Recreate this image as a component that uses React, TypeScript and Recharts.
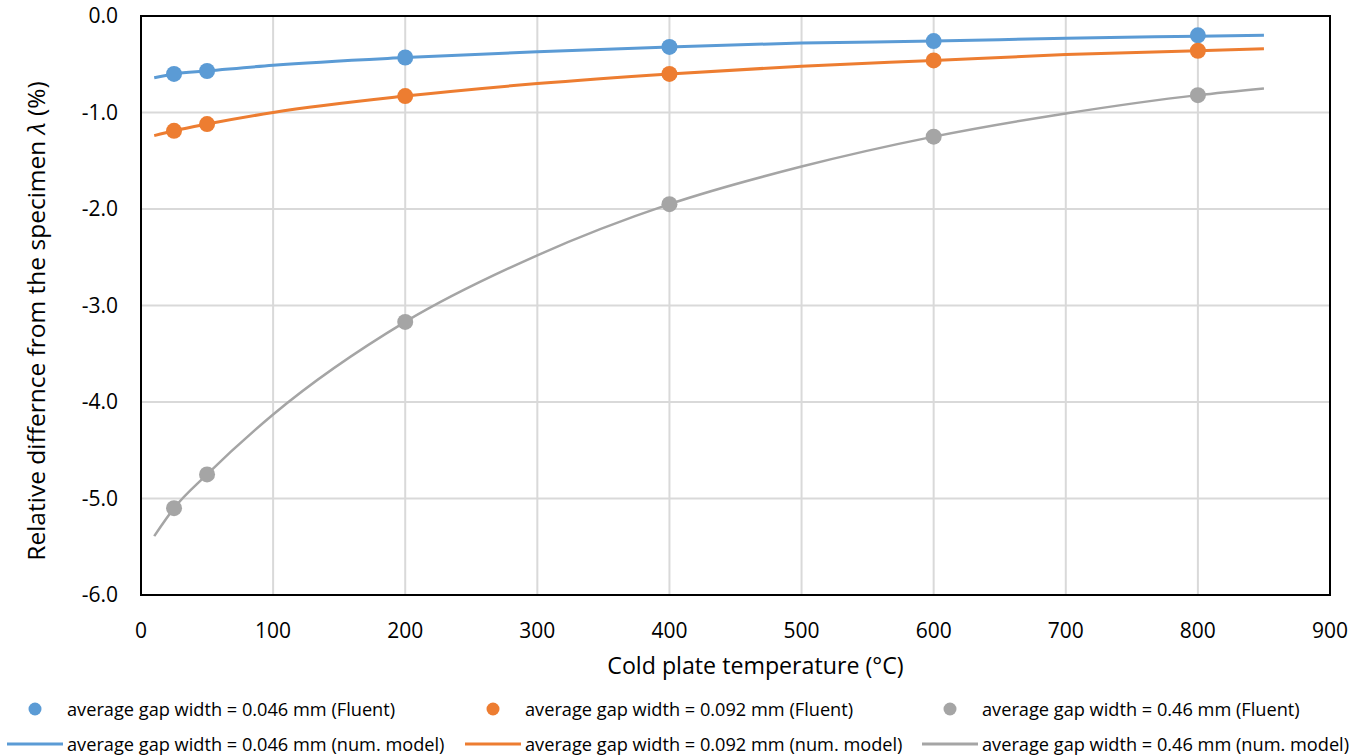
import React from "react";
import {
  ComposedChart,
  Line,
  Scatter,
  XAxis,
  YAxis,
  CartesianGrid,
  ReferenceArea,
} from "recharts";

// Fluent results (dots)
const fluentTemps = [25, 50, 200, 400, 600, 800];
const fluent046 = [-0.6, -0.57, -0.43, -0.32, -0.26, -0.2];
const fluent092 = [-1.19, -1.12, -0.83, -0.6, -0.46, -0.36];
const fluent46 = [-5.1, -4.75, -3.17, -1.95, -1.25, -0.82];

// numerical model (lines)
const modelTemps = [10, 25, 50, 100, 200, 300, 400, 500, 600, 700, 800, 850];
const model046 = [-0.64, -0.6, -0.57, -0.51, -0.43, -0.37, -0.32, -0.28, -0.26, -0.23, -0.21, -0.2];
const model092 = [-1.24, -1.19, -1.12, -1.0, -0.83, -0.7, -0.6, -0.52, -0.46, -0.4, -0.36, -0.34];
const model46 = [-5.39, -5.1, -4.75, -4.13, -3.17, -2.48, -1.95, -1.56, -1.25, -1.01, -0.82, -0.75];

const xTicks = [0, 100, 200, 300, 400, 500, 600, 700, 800, 900];
const yTicks = [-6, -5, -4, -3, -2, -1, 0];

const BLUE = "#5B9BD5";
const ORANGE = "#ED7D31";
const GRAY = "#A5A5A5";
const FONT = "'Open Sans', sans-serif";

const toPoints = (xs: number[], ys: number[]) => xs.map((x, i) => ({ x, y: ys[i] }));

const dot = (color: string) => (props: any) => (
  <circle cx={props.cx} cy={props.cy} r={8} fill={color} />
);

const legendItems = [
  { label: "average gap width = 0.046 mm (Fluent)", color: BLUE, kind: "dot" },
  { label: "average gap width = 0.092 mm (Fluent)", color: ORANGE, kind: "dot" },
  { label: "average gap width = 0.46 mm (Fluent)", color: GRAY, kind: "dot" },
  { label: "average gap width = 0.046 mm (num. model)", color: BLUE, kind: "line" },
  { label: "average gap width = 0.092 mm (num. model)", color: ORANGE, kind: "line" },
  { label: "average gap width = 0.46 mm (num. model)", color: GRAY, kind: "line" },
];

export default function App() {
  return (
    <div
      style={{
        position: "absolute",
        left: 0,
        top: 0,
        width: 1363,
        height: 755,
        background: "#fff",
        fontFamily: FONT,
      }}
    >
      <ComposedChart
        width={1363}
        height={690}
        margin={{ top: 16, right: 33, bottom: 15, left: 0 }}
      >
        <CartesianGrid stroke="#D9D9D9" strokeWidth={2} />
        <XAxis
          type="number"
          dataKey="x"
          domain={[0, 900]}
          ticks={xTicks}
          allowDataOverflow
          height={80}
          tickLine={false}
          axisLine={false}
          tickSize={0}
          tickMargin={28}
          tick={{ fill: "#000", fontSize: 21, fontFamily: FONT }}
          label={(p: any) => (
            <text
              x={p.viewBox.x + p.viewBox.width / 2 + 20}
              y={p.viewBox.y + 79}
              textAnchor="middle"
              fontSize={23.2}
              fontFamily={FONT}
              fill="#000"
            >
              Cold plate temperature (°C)
            </text>
          )}
        />
        <YAxis
          type="number"
          dataKey="y"
          domain={[-6, 0]}
          ticks={yTicks}
          width={141}
          tickLine={false}
          axisLine={false}
          tickSize={0}
          tickMargin={23}
          tickFormatter={(v: number) => v.toFixed(1)}
          tick={{ fill: "#000", fontSize: 21, fontFamily: FONT }}
          label={(p: any) => {
            const cx = 45;
            const cy = 321;
            return (
              <text
                x={cx}
                y={cy}
                transform={`rotate(-90, ${cx}, ${cy})`}
                textAnchor="middle"
                fontSize={24.5}
                fontFamily={FONT}
                fill="#000"
              >
                Relative differnce from the specimen{" "}
                <tspan fontStyle="italic">λ</tspan> (%)
              </text>
            );
          }}
        />
        <ReferenceArea
          x1={0}
          x2={900}
          y1={-6}
          y2={0}
          fill="none"
          fillOpacity={0}
          stroke="#000"
          strokeWidth={2}
        />
        <Line
          data={toPoints(modelTemps, model046)}
          dataKey="y"
          type="monotone"
          stroke={BLUE}
          strokeWidth={3}
          dot={false}
          activeDot={false}
          isAnimationActive={false}
        />
        <Line
          data={toPoints(modelTemps, model092)}
          dataKey="y"
          type="monotone"
          stroke={ORANGE}
          strokeWidth={3}
          dot={false}
          activeDot={false}
          isAnimationActive={false}
        />
        <Line
          data={toPoints(modelTemps, model46)}
          dataKey="y"
          type="monotone"
          stroke={GRAY}
          strokeWidth={2.5}
          dot={false}
          activeDot={false}
          isAnimationActive={false}
        />
        <Scatter
          data={toPoints(fluentTemps, fluent046)}
          dataKey="y"
          shape={dot(BLUE)}
          isAnimationActive={false}
        />
        <Scatter
          data={toPoints(fluentTemps, fluent092)}
          dataKey="y"
          shape={dot(ORANGE)}
          isAnimationActive={false}
        />
        <Scatter
          data={toPoints(fluentTemps, fluent46)}
          dataKey="y"
          shape={dot(GRAY)}
          isAnimationActive={false}
        />
      </ComposedChart>

      {/* legend: 2 rows x 3 columns */}
      {legendItems.map((item, i) => {
        const col = i % 3;
        const row = Math.floor(i / 3);
        const left = [7, 465, 922][col];
        const top = row === 0 ? 709 : 744;
        return (
          <div
            key={item.label}
            style={{
              position: "absolute",
              left,
              top: top - 12,
              height: 24,
              display: "flex",
              alignItems: "center",
              whiteSpace: "nowrap",
              fontSize: 18.2,
              color: "#000",
            }}
          >
            <svg width={60} height={24}>
              {item.kind === "dot" ? (
                <circle cx={28} cy={12} r={6.5} fill={item.color} />
              ) : (
                <line x1={0} y1={12} x2={56} y2={12} stroke={item.color} strokeWidth={3} />
              )}
            </svg>
            <span>{item.label}</span>
          </div>
        );
      })}
    </div>
  );
}
